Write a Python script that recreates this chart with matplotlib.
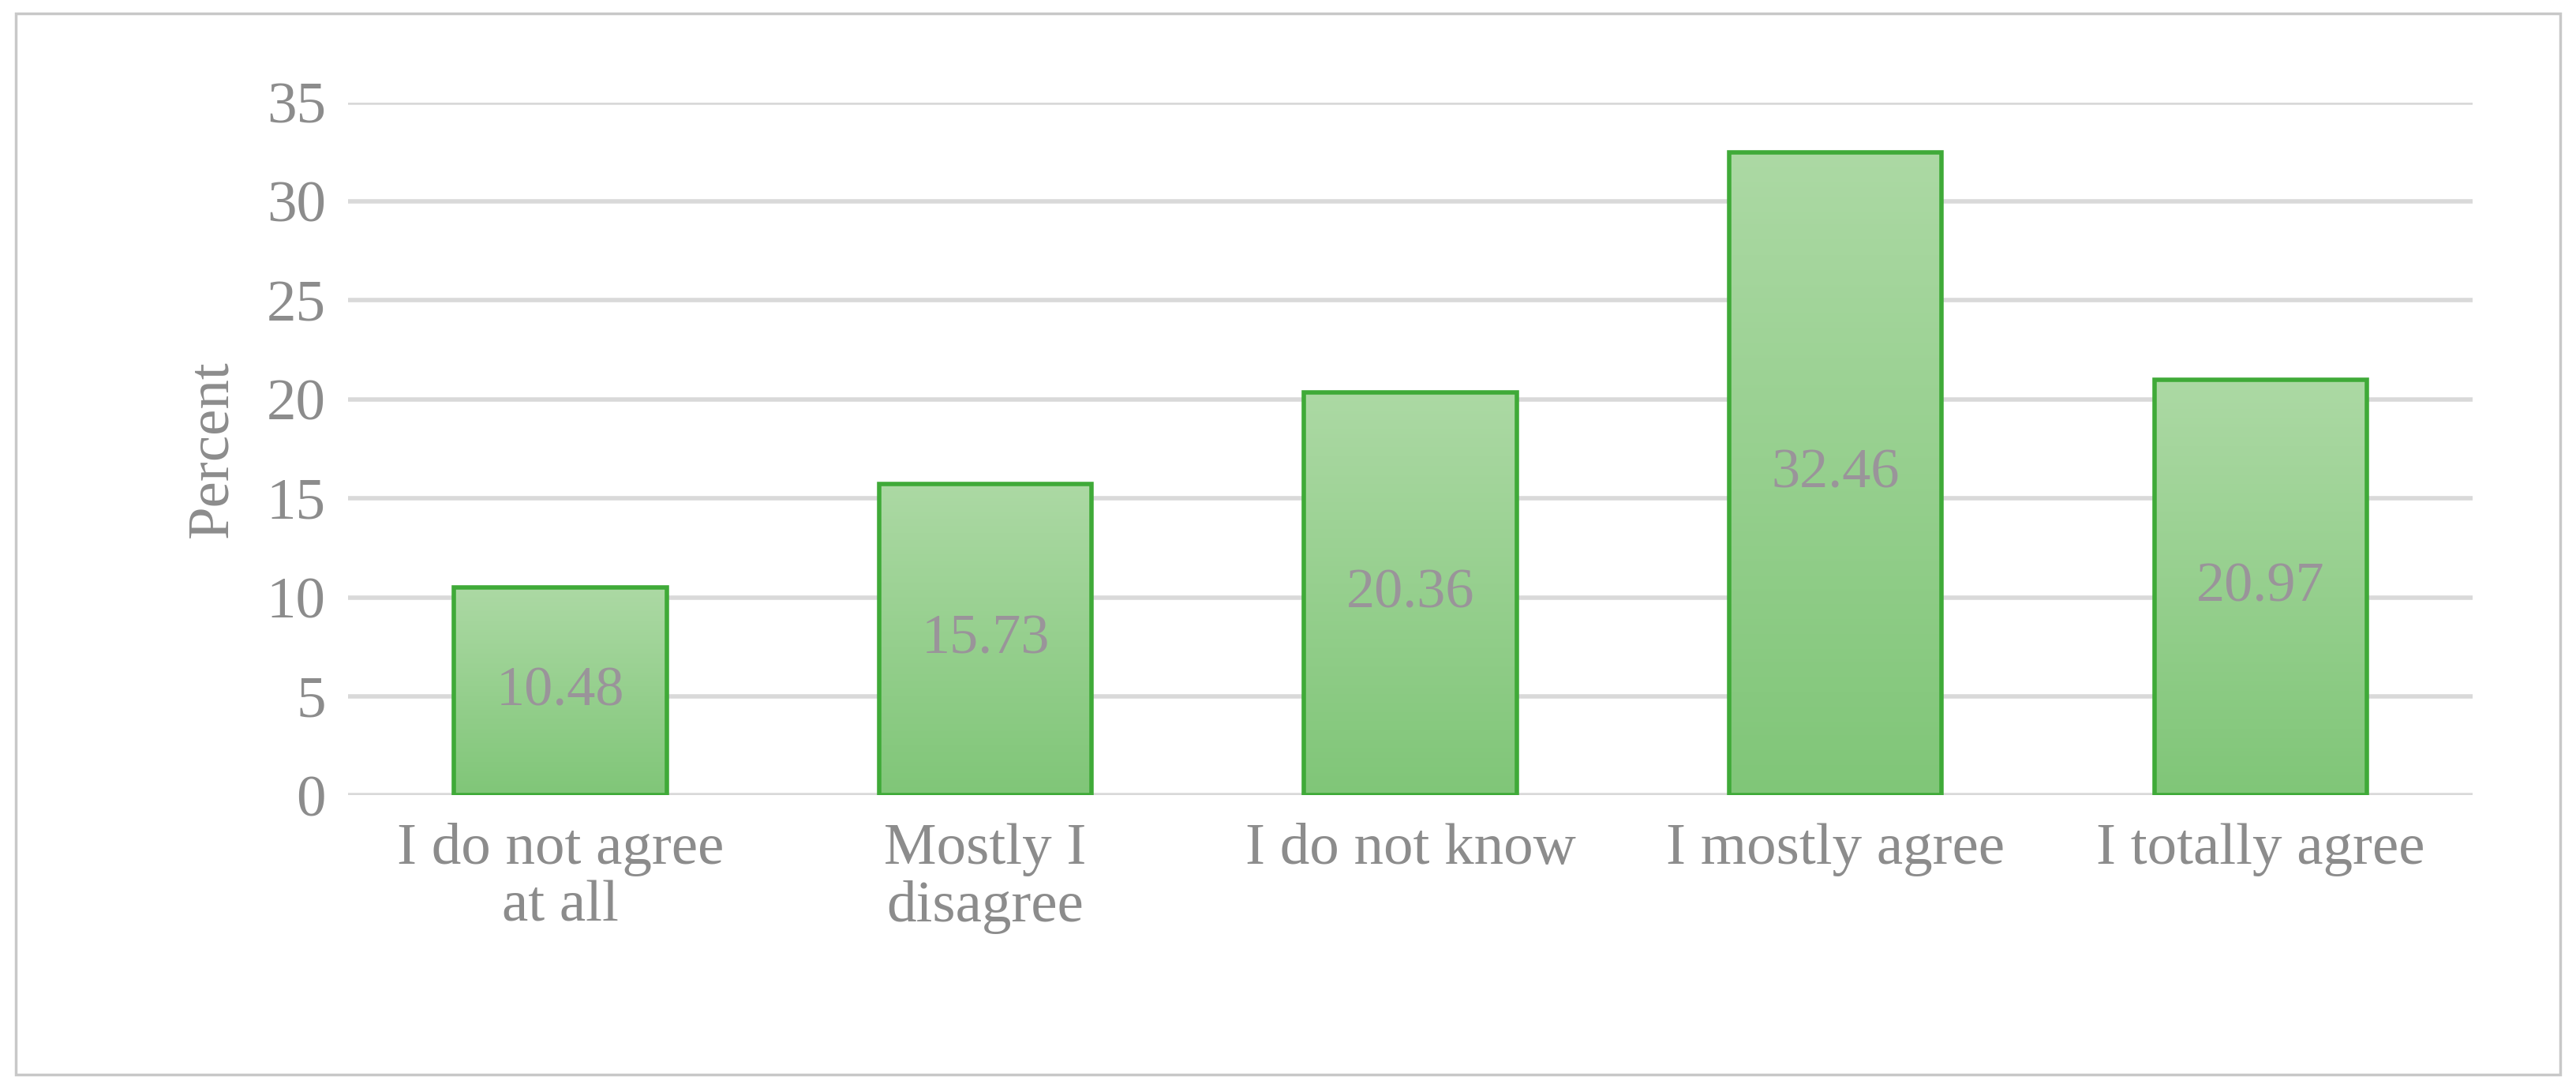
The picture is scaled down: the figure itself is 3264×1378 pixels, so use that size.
import matplotlib
matplotlib.use("Agg")
import matplotlib.pyplot as plt
import numpy as np
from matplotlib.colors import LinearSegmentedColormap
from matplotlib.patches import Rectangle

categories = ["I do not agree\nat all", "Mostly I\ndisagree", "I do not know",
              "I mostly agree", "I totally agree"]
values = [10.48, 15.73, 20.36, 32.46, 20.97]
yticks = [0, 5, 10, 15, 20, 25, 30, 35]

plt.rcParams["font.family"] = ["Liberation Serif", "DejaVu Serif"]
grey = "#8c8c8c"

fig = plt.figure(figsize=(32.64, 13.78), dpi=100, facecolor="white")
fig.patches.append(Rectangle((0.006, 0.012), 0.988, 0.976, transform=fig.transFigure,
                             fill=False, edgecolor="#c8c8c8", linewidth=2.5))
ax = fig.add_axes([0.135, 0.269, 0.825, 0.637])

x = np.arange(len(categories))
bars = ax.bar(x, values, width=0.5, facecolor="none", edgecolor="#3faa38",
              linewidth=4, zorder=3)
cmap = LinearSegmentedColormap.from_list("g", ["#80c678", "#acd9a4"])
grad = np.linspace(0, 1, 256).reshape(-1, 1)
for b in bars:
    im = ax.imshow(grad, cmap=cmap, origin="lower", aspect="auto", zorder=2,
                   extent=[b.get_x(), b.get_x() + b.get_width(), 0, b.get_height()])
    im.set_clip_path(b)
for xi, v in zip(x, values):
    ax.text(xi, v / 2, f"{v:.2f}", ha="center", va="center", fontsize=52,
            color="#9a949a", zorder=4)

ax.set_xlim(-0.5, len(categories) - 0.5)
ax.set_ylim(0, 35)
ax.set_yticks(yticks)
ax.set_xticks(x)
ax.set_xticklabels(categories, fontsize=54, color=grey, linespacing=1.1)
ax.tick_params(axis="y", labelsize=54, labelcolor=grey, length=0, pad=20)
ax.tick_params(axis="x", length=0, pad=25)
ax.yaxis.grid(True, color="#d9d9d9", linewidth=4, zorder=0)
ax.set_axisbelow(True)
for s in ax.spines.values():
    s.set_visible(False)
ax.set_ylabel("Percent", fontsize=54, color=grey, labelpad=25)

fig.savefig("out.png", dpi=100)
